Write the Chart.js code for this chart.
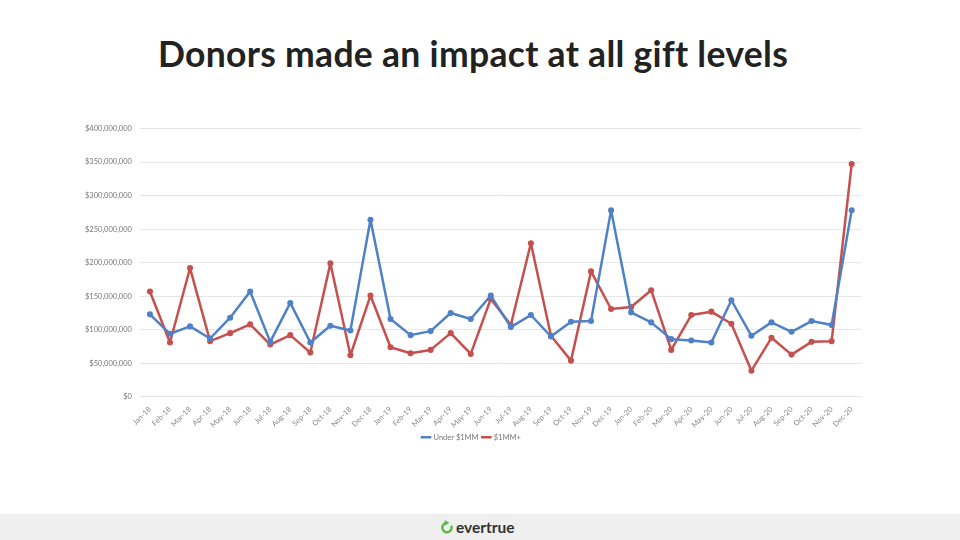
<!DOCTYPE html>
<html>
<head>
<meta charset="utf-8">
<script src="https://cdn.jsdelivr.net/npm/chart.js@4/dist/chart.umd.min.js"></script>
<style>
  html, body { margin: 0; padding: 0; background: #fff; }
  body { width: 960px; height: 540px; position: relative; overflow: hidden; font-family: Lato, "Open Sans", sans-serif; }
  h1 { position: absolute; left: 0; width: 946px; top: 32px; margin: 0; text-align: center; font-family: Lato, sans-serif; font-weight: 700; font-size: 35.5px; color: #222; letter-spacing: 0.3px; }
  #wrap { position: absolute; left: 77px; top: 116px; width: 789px; height: 335px; }
  #footer { position: absolute; left: 0; top: 514px; width: 960px; height: 26px; background: #efefef; }
  #logo { position: absolute; left: 441px; top: 4px; font-family: Lato, sans-serif; font-weight: 700; font-size: 15.5px; color: #333; display: flex; align-items: center; }
  #logo svg { margin-right: 2px; }
</style>
</head>
<body>
<h1>Donors made an impact at all gift levels</h1>
<div id="wrap"><canvas id="lineChart"></canvas></div>
<div id="footer">
  <div id="logo">
    <svg width="13" height="15" viewBox="0 0 14 16">
      <path d="M11 6 A5 5 0 1 1 5 3.3" fill="none" stroke="#5cb947" stroke-width="2.6"/>
      <path d="M4 0 L9 3 L4 6 Z" fill="#5cb947"/>
    </svg>
    <span>evertrue</span>
  </div>
</div>
<script>
const months = ['Jan-18','Feb-18','Mar-18','Apr-18','May-18','Jun-18','Jul-18','Aug-18','Sep-18','Oct-18','Nov-18','Dec-18',
  'Jan-19','Feb-19','Mar-19','Apr-19','May-19','Jun-19','Jul-19','Aug-19','Sep-19','Oct-19','Nov-19','Dec-19',
  'Jan-20','Feb-20','Mar-20','Apr-20','May-20','Jun-20','Jul-20','Aug-20','Sep-20','Oct-20','Nov-20','Dec-20'];

// values in millions of dollars
const underOneMM = [123, 94, 105, 87, 118, 157, 82, 140, 81, 106, 99, 264,
  116, 92, 98, 125, 116, 151, 104, 122, 90, 112, 113, 278,
  126, 111, 86, 84, 81, 144, 91, 111, 97, 113, 107, 278];
const oneMMPlus = [157, 81, 192, 83, 95, 108, 78, 92, 66, 199, 62, 151,
  74, 65, 70, 95, 64, 146, 107, 229, 91, 54, 187, 131,
  134, 159, 70, 122, 127, 109, 39, 88, 63, 82, 83, 347];

const yMax = 400;
const yStep = 50;

function money(v) {
  return '$' + (v * 1000000).toLocaleString('en-US');
}

const ctx = document.getElementById('lineChart').getContext('2d');
new Chart(ctx, {
  type: 'line',
  data: {
    labels: months,
    datasets: [{
      label: 'Under $1MM',
      data: underOneMM,
      borderColor: '#4f81c7',
      backgroundColor: '#4f81c7',
      borderWidth: 2.5,
      borderJoinStyle: 'round',
      pointRadius: 1.8,
      pointHoverRadius: 1.8,
      tension: 0
    }, {
      label: '$1MM+',
      data: oneMMPlus,
      borderColor: '#c5504d',
      backgroundColor: '#c5504d',
      borderWidth: 2.5,
      borderJoinStyle: 'round',
      pointRadius: 1.8,
      pointHoverRadius: 1.8,
      tension: 0
    }]
  },
  options: {
    responsive: true,
    maintainAspectRatio: false,
    animation: false,
    layout: { padding: { left: 0, right: 0, top: 8, bottom: 0 } },
    plugins: {
      tooltip: { enabled: false },
      legend: {
        position: 'bottom',
        labels: {
          usePointStyle: true,
          pointStyle: 'line',
          boxWidth: 14,
          padding: 4,
          color: '#777',
          font: { family: 'Lato, sans-serif', size: 7.5 }
        }
      }
    },
    scales: {
      x: {
        offset: true,
        grid: { display: false },
        border: { display: false },
        ticks: {
          maxRotation: 45,
          minRotation: 45,
          autoSkip: false,
          padding: 0,
          color: '#888',
          font: { family: 'Lato, sans-serif', size: 7.5 }
        }
      },
      y: {
        min: 0,
        max: yMax,
        border: { display: false },
        grid: { color: '#e6e6e6', lineWidth: 1, drawTicks: false },
        ticks: {
          stepSize: yStep,
          padding: 8,
          color: '#777',
          font: { family: 'Lato, sans-serif', size: 7.5 },
          callback: function(v) { return money(v); }
        }
      }
    }
  }
});
</script>
</body>
</html>
